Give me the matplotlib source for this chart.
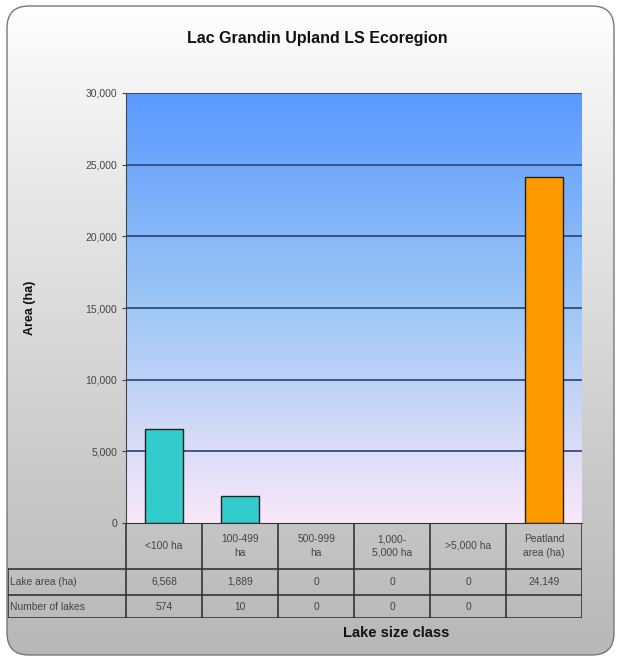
import numpy as np
import matplotlib.pyplot as plt
from matplotlib.patches import FancyBboxPatch

plt.rcParams['font.family'] = ['Liberation Sans', 'DejaVu Sans']

categories = ['<100 ha', '100-499\nha', '500-999\nha', '1,000-\n5,000 ha', '>5,000 ha', 'Peatland\narea (ha)']
lake_area = [6568, 1889, 0, 0, 0, 24149]
num_lakes = [574, 10, 0, 0, 0, None]
bar_colors = ['#33cccc', '#33cccc', '#33cccc', '#33cccc', '#33cccc', '#ff9900']
row_labels = ['Lake area (ha)', 'Number of lakes']
yticks = [0, 5000, 10000, 15000, 20000, 25000, 30000]

W, H = 621, 658
fig = plt.figure(figsize=(W / 100, H / 100), dpi=100)

# outer rounded frame with white->grey gradient
bg = fig.add_axes([0, 0, 1, 1])
bg.set_xlim(0, W)
bg.set_ylim(H, 0)
bg.axis('off')
grad = np.linspace(0, 1, 256).reshape(-1, 1)
top_c = np.array([1.0, 1.0, 1.0])
bot_c = np.array([0.72, 0.72, 0.72])
img = top_c + (bot_c - top_c) * grad[..., None] ** 0.9
im = bg.imshow(img, extent=[7, 614, 655, 6], aspect='auto')
frame = FancyBboxPatch((7, 6), 607, 649, boxstyle='round,pad=0,rounding_size=22',
                       fc='none', ec='#777777', lw=1.0)
bg.add_patch(frame)
im.set_clip_path(frame)

x0, x1, ytop, ybot = 126, 582, 93, 523
ax = fig.add_axes([x0 / W, 1 - ybot / H, (x1 - x0) / W, (ybot - ytop) / H])
n = len(categories)
ax.set_xlim(-0.5, n - 0.5)
ax.set_ylim(0, 30000)

# plot area gradient: blue at top to pale pink at bottom
g = np.linspace(0, 1, 256).reshape(-1, 1)
c_top = np.array([0.35, 0.60, 1.0])
c_mid = np.array([0.62, 0.78, 0.96])
c_bot = np.array([0.98, 0.91, 0.98])
t = g[..., None]
pimg = np.where(t < 0.5, c_bot + (c_mid - c_bot) * (t / 0.5), c_mid + (c_top - c_mid) * ((t - 0.5) / 0.5))
ax.imshow(pimg, extent=[-0.5, n - 0.5, 0, 30000], origin='lower', aspect='auto', zorder=0)

for y in yticks[1:]:
    ax.axhline(y, color='#2b3f73', lw=1.2, zorder=1)

xs = np.arange(n)
edge_w = [1.0 if v > 0 else 0 for v in lake_area]
ax.bar(xs, lake_area, width=0.5, color=bar_colors, edgecolor='#222222', linewidth=edge_w, zorder=2)

ax.set_yticks(yticks)
ax.set_yticklabels([f'{v:,}' for v in yticks], fontsize=7.5, color='#444444')
ax.set_xticks([])
ax.tick_params(axis='y', length=3, color='#444444')
for s in ['top', 'right']:
    ax.spines[s].set_visible(False)
ax.spines['left'].set_color('#444444')
ax.spines['bottom'].set_color('#333333')

# data table below the plot
tb_top, tb_bot = 523, 618
lx = 8
colw = (x1 - x0) / n
tab = fig.add_axes([lx / W, 1 - tb_bot / H, (x1 - lx) / W, (tb_bot - tb_top) / H])
left = -0.5 - (x0 - lx) / colw
tab.set_xlim(left, n - 0.5)
tab.set_ylim(95, 0)
tab.axis('off')
rows = [0, 46, 72, 95]
lc = '#333333'
for y in rows[1:]:
    tab.plot([left, n - 0.5], [y, y], color=lc, lw=1.2)
tab.plot([left, left], [rows[1], rows[3]], color=lc, lw=1.2)
for i in range(n + 1):
    tab.plot([i - 0.5, i - 0.5], [0, rows[3]], color=lc, lw=1.2)

tc = '#444444'
fs = 7.4
for i, cat in enumerate(categories):
    tab.text(i, (rows[0] + rows[1]) / 2, cat, ha='center', va='center', fontsize=fs,
             color=tc, linespacing=1.45)
    tab.text(i, (rows[1] + rows[2]) / 2, f'{lake_area[i]:,}', ha='center', va='center',
             fontsize=fs, color=tc)
    if num_lakes[i] is not None:
        tab.text(i, (rows[2] + rows[3]) / 2, f'{num_lakes[i]:,}', ha='center', va='center',
                 fontsize=fs, color=tc)
for j, lab in enumerate(row_labels):
    tab.text(left + 0.03, (rows[j + 1] + rows[j + 2]) / 2, lab, ha='left', va='center',
             fontsize=fs, color=tc)

fig.text(317 / W, 1 - 38 / H, 'Lac Grandin Upland LS Ecoregion', ha='center', va='center',
         fontsize=11.5, fontweight='bold', color='#111111')
fig.text(30 / W, 1 - 308 / H, 'Area (ha)', rotation=90, ha='center', va='center',
         fontsize=9, fontweight='bold', color='#111111')
fig.text(396 / W, 1 - 633 / H, 'Lake size class', ha='center', va='center',
         fontsize=10.5, fontweight='bold', color='#111111')

fig.savefig('out.png', dpi=100)
